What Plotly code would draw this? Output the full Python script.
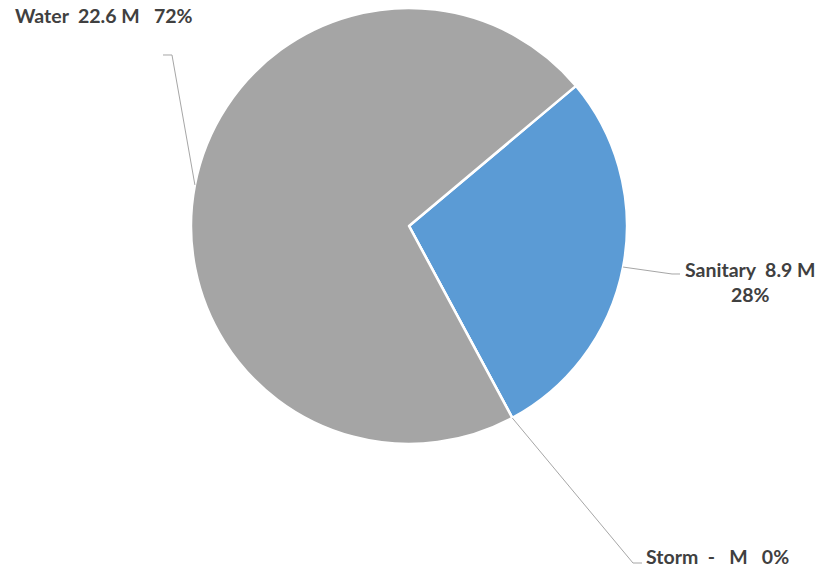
import math
import plotly.graph_objects as go

# Cost by system, in millions
categories = ["Sanitary", "Storm", "Water"]
values_m = [8.9, 0.0, 22.6]
colors = ["#5B9BD5", "#ED7D31", "#A5A5A5"]

W, H = 821, 570
CX, CY, R = 409, 226, 218      # pie centre and radius in px
START = 50                      # first slice angle, degrees clockwise from 12 o'clock

total = sum(values_m)
pcts = [round(100 * v / total) for v in values_m]


def fmt_val(v):
    return "-" if v == 0 else f"{v:.1f}"


def px(x, y):
    return x / W, 1 - y / H


fig = go.Figure(
    go.Pie(
        labels=categories,
        values=values_m,
        sort=False,
        direction="clockwise",
        rotation=START,
        marker=dict(colors=colors, line=dict(color="white", width=2.5)),
        textinfo="none",
        hoverinfo="label+value+percent",
        showlegend=False,
        domain=dict(
            x=[(CX - R) / W, (CX + R) / W],
            y=[1 - (CY + R) / H, 1 - (CY - R) / H],
        ),
    )
)

# mid-angle of each slice (degrees clockwise from top) -> point on the rim
angles = {}
a = START
for c, v in zip(categories, values_m):
    span = 360 * v / total
    angles[c] = a + span / 2
    a += span


def rim(cat):
    t = math.radians(angles[cat])
    return CX + R * math.sin(t), CY - R * math.cos(t)


# label anchor (elbow, end of leader) and text placement, in px
label_layout = {
    "Water": dict(elbow=(172, 55), end=(163, 55), pos=(13, 16), xanchor="left", align="left", two_line=False),
    "Sanitary": dict(elbow=(672, 274), end=(680, 274), pos=(750, 282), xanchor="center", align="center", two_line=True),
    "Storm": dict(elbow=(633, 563), end=(642, 563), pos=(644, 556), xanchor="left", align="left", two_line=False),
}

NB = "\u00a0"
shapes, annotations = [], []
for c, v, p in zip(categories, values_m, pcts):
    L = label_layout[c]
    x0, y0 = rim(c)
    pts = [(x0, y0), L["elbow"], L["end"]]
    path = "M " + " L ".join(f"{px(x, y)[0]:.5f},{px(x, y)[1]:.5f}" for x, y in pts)
    shapes.append(dict(type="path", xref="paper", yref="paper", path=path,
                       line=dict(color="#A6A6A6", width=1)))
    val = fmt_val(v)
    if c == "Storm":
        first = f"{c}{NB}{NB}{val}{NB}{NB}{NB}M"
    else:
        first = f"{c}{NB}{NB}{val}{NB}M"
    if L["two_line"]:
        text = f"{first}<br>{p}%"
    else:
        text = f"{first}{NB}{NB}{NB}{p}%"
    xx, yy = px(*L["pos"])
    annotations.append(dict(
        x=xx, y=yy, xref="paper", yref="paper", text=text, showarrow=False,
        xanchor=L["xanchor"], yanchor="middle", align=L["align"],
        font=dict(family="Lato", size=19.5, color="#404040", weight="bold"),
    ))

fig.update_layout(
    width=W, height=H,
    margin=dict(l=0, r=0, t=0, b=0),
    paper_bgcolor="white", plot_bgcolor="white",
    shapes=shapes, annotations=annotations,
)

fig.write_html("out.html")
